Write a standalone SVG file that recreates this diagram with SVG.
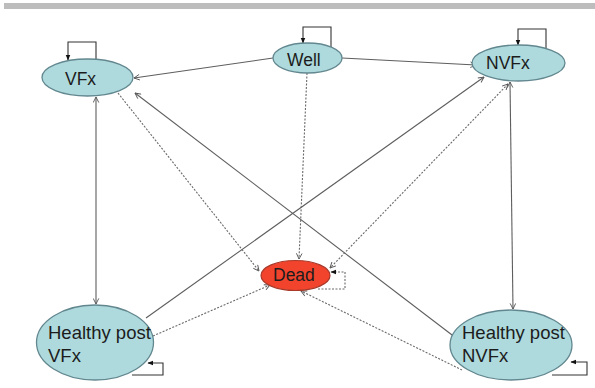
<svg xmlns="http://www.w3.org/2000/svg" width="595" height="388" viewBox="0 0 595 388">
  <defs>
    <marker id="open" viewBox="0 0 10 10" refX="9" refY="5" markerWidth="7" markerHeight="7" orient="auto-start-reverse" markerUnits="userSpaceOnUse">
      <path d="M1,1 L9,5 L1,9" fill="none" stroke="#555" stroke-width="1.3"/>
    </marker>
    <marker id="solid" viewBox="0 0 10 10" refX="9" refY="5" markerWidth="6" markerHeight="6" orient="auto" markerUnits="userSpaceOnUse">
      <path d="M0,1 L10,5 L0,9 Z" fill="#111"/>
    </marker>
  </defs>
  <style>
    .node { fill: #aedadd; stroke: #62878f; stroke-width: 1.3; }
    .dead { fill: #f2432c; stroke: #a83a2a; stroke-width: 1.2; }
    .lbl { font-family: "Liberation Sans", Arial, sans-serif; font-size: 17.5px; fill: #1c1c1c; }
    .big { font-size: 18.5px; }
    .edge { fill: none; stroke: #5e5e5e; stroke-width: 1.1; }
    .dot { fill: none; stroke: #6a6a6a; stroke-width: 1.1; stroke-dasharray: 2 1.5; }
    .loop { fill: none; stroke: #333; stroke-width: 1.1; }
  </style>

  <!-- header rule -->
  <rect x="4" y="3" width="591" height="6" fill="#bdbdbd"/>

  <g id="connectors">
    <!-- solid transitions -->
    <line class="edge" x1="273" y1="58" x2="134" y2="78" marker-end="url(#open)"/>
    <line class="edge" x1="342" y1="58" x2="476" y2="65" marker-end="url(#open)"/>
    <line class="edge" x1="96" y1="97" x2="96" y2="304" marker-start="url(#open)" marker-end="url(#open)"/>
    <line class="edge" x1="510" y1="82" x2="513" y2="309" marker-start="url(#open)" marker-end="url(#open)"/>
    <line class="edge" x1="146" y1="318" x2="484" y2="77" marker-end="url(#open)"/>
    <line class="edge" x1="456" y1="338" x2="135" y2="93" marker-end="url(#open)"/>
    <!-- dotted transitions into Dead -->
    <line class="dot" x1="307" y1="73" x2="299" y2="259" marker-end="url(#open)"/>
    <line class="dot" x1="118" y1="93" x2="259" y2="271" marker-end="url(#open)"/>
    <line class="dot" x1="508" y1="84" x2="330" y2="268" marker-start="url(#open)" marker-end="url(#open)"/>
    <line class="dot" x1="153" y1="336" x2="270" y2="285" marker-end="url(#open)"/>
    <line class="dot" x1="462" y1="370" x2="301" y2="291" marker-end="url(#open)"/>
    <!-- self loops -->
    <path class="loop" d="M96,62 V42 H68 V60" marker-end="url(#solid)"/>
    <path class="loop" d="M331,47 V27 H303 V43" marker-end="url(#solid)"/>
    <path class="loop" d="M546,48 V29 H518 V45" marker-end="url(#solid)"/>
    <path class="dot" d="M318,289 H345 V272 H331" marker-end="url(#solid)"/>
    <path class="loop" d="M132,375 H163 V363 H148" marker-end="url(#solid)"/>
    <path class="loop" d="M552,375 H587 V362 H571" marker-end="url(#solid)"/>
  </g>

  <g id="vfx">
    <ellipse class="node" cx="87.5" cy="77.5" rx="45.5" ry="18.5"/>
    <text class="lbl" x="65" y="85">VFx</text>
  </g>
  <g id="well">
    <ellipse class="node" cx="307.5" cy="58" rx="34.5" ry="15"/>
    <text class="lbl" x="287" y="66">Well</text>
  </g>
  <g id="nvfx">
    <ellipse class="node" cx="518.5" cy="63" rx="46.5" ry="18"/>
    <text class="lbl" x="486" y="69">NVFx</text>
  </g>
  <g id="dead">
    <ellipse class="dead" cx="295.5" cy="275.5" rx="34.5" ry="15"/>
    <text class="lbl" x="273" y="281">Dead</text>
  </g>
  <g id="healthy-post-vfx">
    <ellipse class="node" cx="95" cy="342.5" rx="58.5" ry="37.5"/>
    <text class="lbl big" x="48" y="339">Healthy post</text>
    <text class="lbl big" x="48" y="362">VFx</text>
  </g>
  <g id="healthy-post-nvfx">
    <ellipse class="node" cx="511" cy="345" rx="61" ry="35"/>
    <text class="lbl big" x="462" y="339">Healthy post</text>
    <text class="lbl big" x="462" y="362">NVFx</text>
  </g>
</svg>
